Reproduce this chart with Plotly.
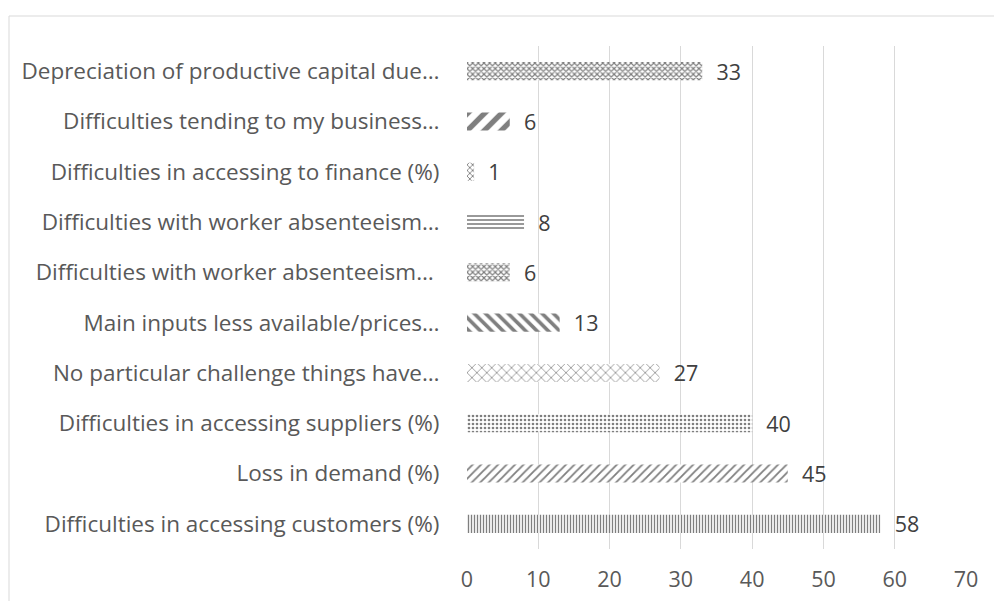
import plotly.graph_objects as go

# Challenges reported, listed top to bottom
categories = [
    "Depreciation of productive capital due…",
    "Difficulties tending to my business…",
    "Difficulties in accessing to finance (%)",
    "Difficulties with worker absenteeism…",
    "Difficulties with worker absenteeism… ",
    "Main inputs less available/prices…",
    "No particular challenge things have…",
    "Difficulties in accessing suppliers (%)",
    "Loss in demand (%)",
    "Difficulties in accessing customers (%)",
]
values = [33, 6, 1, 8, 6, 13, 27, 40, 45, 58]
x_ticks = [0, 10, 20, 30, 40, 50, 60, 70]

# Fill pattern per bar
pattern_shapes = ["x", "/", "x", "-", "x", "\\", "x", ".", "/", "|"]
pattern_sizes = [4, 12, 4, 4, 4, 8, 7, 4, 6, 3]
pattern_solidity = [0.5, 0.45, 0.4, 0.4, 0.5, 0.45, 0.2, 0.35, 0.3, 0.45]

W, H = 994, 601
L, R, T, B = 467, 28, 46, 52
FONT = "Open Sans, sans-serif"

fig = go.Figure(
    go.Bar(
        x=values,
        y=categories,
        orientation="h",
        marker=dict(
            color="white",
            line=dict(width=0),
            pattern=dict(
                shape=pattern_shapes,
                size=pattern_sizes,
                solidity=pattern_solidity,
                fgcolor="#7f7f7f",
                bgcolor="white",
                fillmode="replace",
            ),
        ),
        text=values,
        texttemplate="  %{x}",
        textposition="outside",
        constraintext="none",
        cliponaxis=False,
        textfont=dict(family=FONT, size=21.5, color="#404040"),
        width=0.36,
    )
)

pw = W - L - R
ph = H - T - B
# Chart-area frame: only its left and top edges fall inside the canvas
left_x = (9 - L) / pw
top_y = (H - B - 16) / ph
fig.add_shape(type="line", xref="paper", yref="paper",
              x0=left_x, x1=left_x, y0=-1, y1=top_y,
              line=dict(color="#d9d9d9", width=1), layer="below")
fig.add_shape(type="line", xref="paper", yref="paper",
              x0=left_x, x1=2, y0=top_y, y1=top_y,
              line=dict(color="#d9d9d9", width=1), layer="below")

fig.update_layout(
    width=W,
    height=H,
    margin=dict(l=L, r=R, t=T, b=B),
    paper_bgcolor="white",
    plot_bgcolor="white",
    showlegend=False,
    font=dict(family=FONT, size=21.5, color="#595959"),
    xaxis=dict(
        range=[0, 70],
        tickvals=x_ticks,
        showgrid=True,
        gridcolor="#d9d9d9",
        gridwidth=1,
        zeroline=False,
        showline=False,
        ticks="outside",
        ticklen=11,
        tickcolor="rgba(0,0,0,0)",
        tickfont=dict(family=FONT, size=21.5, color="#595959"),
        automargin=False,
    ),
    yaxis=dict(
        autorange="reversed",
        showgrid=False,
        zeroline=False,
        showline=False,
        ticks="outside",
        ticklen=22,
        tickcolor="rgba(0,0,0,0)",
        tickfont=dict(family=FONT, size=22.5, color="#595959"),
        automargin=False,
    ),
)

fig.write_html("out.html")
